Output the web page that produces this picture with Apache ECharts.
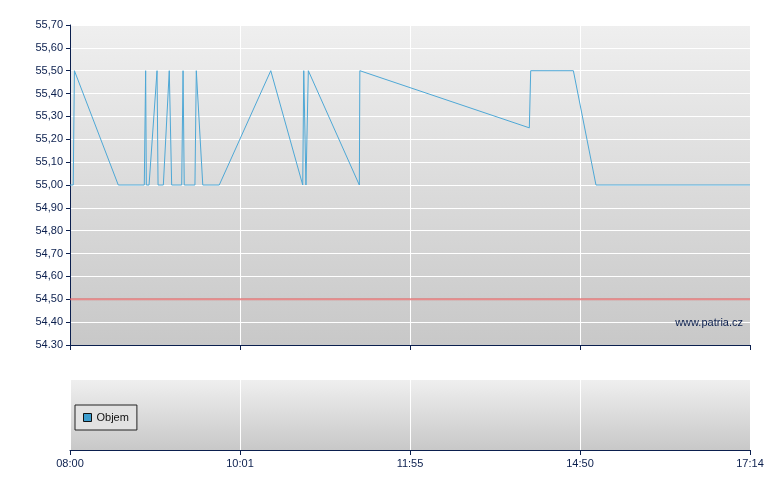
<!DOCTYPE html>
<html>
<head>
<meta charset="utf-8">
<script src="https://cdn.jsdelivr.net/npm/echarts@6/dist/echarts.min.js"></script>
<style>html,body{margin:0;padding:0;background:#fff;}#c{width:780px;height:490px;}</style>
</head>
<body>
<div id="c"></div>
<script>
// x positions in axis units (0..4 = the five time labels), price values
const priceX = [0, 0.019, 0.026, 0.284, 0.437, 0.445, 0.449, 0.465, 0.512, 0.518, 0.549, 0.584, 0.594, 0.598, 0.657, 0.665, 0.672, 0.735, 0.743, 0.781, 0.878, 1.181, 1.369, 1.375, 1.388, 1.402, 1.702, 1.705, 2.702, 2.710, 2.961, 3.094, 4];
const priceY = [55.00, 55.00, 55.50, 55.00, 55.00, 55.50, 55.00, 55.00, 55.50, 55.00, 55.00, 55.50, 55.50, 55.00, 55.00, 55.50, 55.00, 55.00, 55.50, 55.00, 55.00, 55.50, 55.00, 55.50, 55.00, 55.50, 55.00, 55.50, 55.25, 55.50, 55.50, 55.00, 55.00];
const refLevel = 54.50;
const xLabels = ['08:00', '10:01', '11:55', '14:50', '17:14'];
const yLabels = ['54.30', '54,40', '54,50', '54,60', '54,70', '54,80', '54,90', '55,00', '55,10', '55,20', '55,30', '55,40', '55,50', '55,60', '55,70'];
const volume = [];

const navy = '#0b1f4e';
const font = 'Liberation Sans, Arial, sans-serif';
const bg = {type: 'linear', x: 0, y: 0, x2: 0, y2: 1, colorStops: [{offset: 0, color: '#efefef'}, {offset: 1, color: '#c8c8c8'}]};

const chart = echarts.init(document.getElementById('c'), null, {renderer: 'canvas'});
chart.setOption({
  animation: false,
  backgroundColor: '#ffffff',
  textStyle: {fontFamily: font},
  grid: [
    {left: 70, top: 25, width: 680, height: 320, show: true, backgroundColor: bg, borderWidth: 0},
    {left: 70, top: 380, width: 680, height: 70, show: true, backgroundColor: bg, borderWidth: 0}
  ],
  xAxis: [
    {type: 'value', gridIndex: 0, min: 0, max: 4, interval: 1,
     axisLine: {show: true, lineStyle: {color: navy, width: 1}},
     axisTick: {show: true, length: 5, lineStyle: {color: navy}},
     axisLabel: {show: false},
     splitLine: {show: true, lineStyle: {color: '#ffffff', width: 1}}},
    {type: 'value', gridIndex: 1, min: 0, max: 4, interval: 1,
     axisLine: {show: true, lineStyle: {color: navy, width: 1}},
     axisTick: {show: true, length: 5, lineStyle: {color: navy}},
     axisLabel: {show: true, color: navy, fontSize: 11, fontFamily: font, margin: 8,
       formatter: v => xLabels[Math.round(v)]},
     splitLine: {show: true, lineStyle: {color: '#ffffff', width: 1}}}
  ],
  yAxis: [
    {type: 'value', gridIndex: 0, min: 54.3, max: 55.7, interval: 0.1,
     axisLine: {show: true, lineStyle: {color: navy, width: 1}},
     axisTick: {show: true, length: 4, lineStyle: {color: navy}},
     axisLabel: {show: true, color: navy, fontSize: 11, fontFamily: font, margin: 7,
       formatter: v => yLabels[Math.round((v - 54.3) / 0.1)]},
     splitLine: {show: true, lineStyle: {color: '#ffffff', width: 1}}},
    {type: 'value', gridIndex: 1, min: 0, max: 1,
     axisLine: {show: false}, axisTick: {show: false}, axisLabel: {show: false},
     splitLine: {show: false}}
  ],
  legend: {
    data: ['Objem'], left: 75, top: 405, padding: [7, 8], itemGap: 4,
    borderColor: '#222222', borderWidth: 1, borderRadius: 0, backgroundColor: '#e2e2e2',
    itemWidth: 8, itemHeight: 8, icon: 'rect',
    itemStyle: {borderColor: '#111111', borderWidth: 1},
    textStyle: {color: '#111111', fontSize: 11, fontFamily: font}
  },
  graphic: [
    {type: 'text', style: {text: 'www.patria.cz', x: 743, y: 323, textAlign: 'right', textVerticalAlign: 'middle', fill: navy, font: '11px ' + font}, z: 100}
  ],
  series: [
    {name: 'ref', type: 'line', xAxisIndex: 0, yAxisIndex: 0, data: [[0, refLevel], [4, refLevel]],
     showSymbol: false, lineStyle: {color: 'rgba(225,100,100,0.75)', width: 2}, z: 2},
    {name: 'Kurz', type: 'line', xAxisIndex: 0, yAxisIndex: 0,
     data: priceX.map((x, i) => [x, priceY[i]]),
     showSymbol: false, lineStyle: {color: '#4ea8d6', width: 1}, z: 3},
    {name: 'Objem', type: 'bar', xAxisIndex: 1, yAxisIndex: 1, data: volume,
     itemStyle: {color: '#3d9ecf'}}
  ]
});
</script>
</body>
</html>
